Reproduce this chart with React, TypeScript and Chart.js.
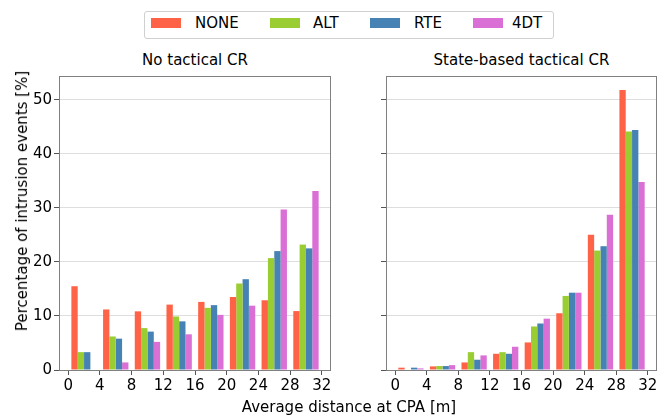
import React, { useEffect, useRef } from 'react';
import { Chart, registerables } from 'chart.js';
Chart.register(...registerables);

const seriesNames = ['NONE', 'ALT', 'RTE', '4DT'];
const seriesColors = ['#FF6347', '#9ACD32', '#4682B4', '#DA70D6'];
const binCenters = [2, 6, 10, 14, 18, 22, 26, 30];
const xTicks = [0, 4, 8, 12, 16, 20, 24, 28, 32];
const yTicks = [0, 10, 20, 30, 40, 50];

// No tactical CR
const noneNoCR = [15.5, 11.2, 10.85, 12.1, 12.6, 13.5, 12.9, 10.9];
const altNoCR = [3.3, 6.2, 7.75, 9.9, 11.5, 16.0, 20.7, 23.2];
const rteNoCR = [3.3, 5.8, 7.1, 9.0, 12.0, 16.8, 22.0, 22.5];
const dt4NoCR = [0, 1.4, 5.2, 6.6, 10.2, 11.9, 29.7, 33.1];

// State-based tactical CR
const noneSB = [0.43, 0.67, 1.4, 3.0, 5.1, 10.5, 25.0, 51.8];
const altSB = [0.1, 0.73, 3.3, 3.3, 8.05, 13.7, 22.1, 44.1];
const rteSB = [0.43, 0.73, 1.9, 3.0, 8.6, 14.3, 22.9, 44.4];
const dt4SB = [0.3, 0.9, 2.7, 4.3, 9.5, 14.3, 28.7, 34.8];

const FONT = "'DejaVu Sans', sans-serif";
const FS = 15;
const X_MIN = -1.16;
const X_MAX = 33.16;
const Y_MAX = 54.39;

const framePlugin = {
  id: 'frame',
  afterDatasetsDraw(chart: any) {
    const { ctx, chartArea: a } = chart;
    ctx.save();
    ctx.strokeStyle = '#808080';
    ctx.lineWidth = 1;
    ctx.strokeRect(a.left + 0.5, a.top + 0.5, a.right - a.left - 1, a.bottom - a.top);
    ctx.restore();
  },
};

type PlotProps = {
  values: number[][];
  left: number;
  width: number;
  yAxisWidth: number;
  padRight: number;
  showYLabels: boolean;
};

function Plot({ values, left, width, yAxisWidth, padRight, showYLabels }: PlotProps) {
  const ref = useRef<HTMLCanvasElement | null>(null);
  useEffect(() => {
    if (!ref.current) return;
    const chart = new Chart(ref.current, {
      type: 'bar',
      data: {
        datasets: values.map((vals, i) => ({
          label: seriesNames[i],
          data: vals.map((v, j) => ({ x: binCenters[j], y: v })),
          backgroundColor: seriesColors[i],
          borderWidth: 0,
          categoryPercentage: 0.8,
          barPercentage: 1.0,
        })),
      },
      options: {
        responsive: false,
        animation: false,
        devicePixelRatio: 1,
        layout: { padding: { top: 8, right: padRight, left: 0, bottom: 0 } },
        plugins: {
          legend: { display: false },
          tooltip: { enabled: false },
          title: { display: false },
        },
        scales: {
          x: {
            type: 'linear',
            min: X_MIN,
            max: X_MAX,
            offset: false,
            grid: {
              display: true,
              drawOnChartArea: false,
              offset: false,
              tickLength: 5,
              tickColor: '#555555',
              color: '#555555',
            },
            border: { display: false },
            ticks: {
              font: { family: FONT, size: FS },
              color: '#000000',
              padding: 2,
              maxRotation: 0,
              autoSkip: false,
            },
            afterBuildTicks: (s: any) => {
              s.ticks = xTicks.map((v) => ({ value: v }));
            },
            afterFit: (s: any) => {
              s.height = 35;
            },
          },
          y: {
            type: 'linear',
            min: 0,
            max: Y_MAX,
            grid: {
              display: true,
              drawOnChartArea: true,
              tickLength: 5,
              tickColor: '#555555',
              color: '#dedede',
            },
            border: { display: false },
            ticks: {
              display: true,
              font: { family: FONT, size: FS },
              color: '#000000',
              padding: 2,
              callback: (v: any) => (showYLabels ? String(v) : ''),
            },
            afterBuildTicks: (s: any) => {
              s.ticks = yTicks.map((v) => ({ value: v }));
            },
            afterFit: (s: any) => {
              s.width = yAxisWidth;
            },
          },
        },
      } as any,
      plugins: [framePlugin],
    });
    return () => chart.destroy();
  }, []);
  return (
    <canvas
      ref={ref}
      width={width}
      height={340}
      style={{ position: 'absolute', left, top: 65, width, height: 340 }}
    />
  );
}

const textStyle: React.CSSProperties = {
  position: 'absolute',
  fontFamily: FONT,
  fontSize: FS,
  color: '#000',
  whiteSpace: 'nowrap',
  lineHeight: '18px',
};

const legendTextX = [195, 313, 414, 512];
const legendSwatchX = [151, 270, 370, 473];

export default function App() {
  return (
    <div
      style={{
        position: 'absolute',
        left: 0,
        top: 0,
        width: 665,
        height: 418,
        background: '#fff',
        overflow: 'hidden',
      }}
    >
      {/* Legend */}
      <div
        style={{
          position: 'absolute',
          left: 144,
          top: 11,
          width: 408,
          height: 26,
          border: '1px solid #d0d0d0',
          borderRadius: 3,
        }}
      />
      {seriesNames.map((n, i) => (
        <React.Fragment key={n}>
          <div
            style={{
              position: 'absolute',
              left: legendSwatchX[i],
              top: 18,
              width: 30,
              height: 10,
              background: seriesColors[i],
            }}
          />
          <div style={{ ...textStyle, left: legendTextX[i], top: 14 }}>{n}</div>
        </React.Fragment>
      ))}

      {/* Subplot titles */}
      <div style={{ ...textStyle, left: 59, width: 272, top: 51, textAlign: 'center' }}>
        No tactical CR
      </div>
      <div style={{ ...textStyle, left: 386, width: 271, top: 51, textAlign: 'center' }}>
        State-based tactical CR
      </div>

      <Plot
        values={[noneNoCR, altNoCR, rteNoCR, dt4NoCR]}
        left={0}
        width={340}
        yAxisWidth={59}
        padRight={9}
        showYLabels={true}
      />
      <Plot
        values={[noneSB, altSB, rteSB, dt4SB]}
        left={345}
        width={320}
        yAxisWidth={41}
        padRight={8}
        showYLabels={false}
      />

      {/* Y axis label */}
      <div
        style={{
          ...textStyle,
          left: 22,
          top: 201,
          transform: 'translate(-50%, -50%) rotate(-90deg)',
        }}
      >
        Percentage of intrusion events [%]
      </div>

      {/* X axis label */}
      <div style={{ ...textStyle, left: 149, width: 400, top: 398, textAlign: 'center' }}>
        Average distance at CPA [m]
      </div>
    </div>
  );
}
